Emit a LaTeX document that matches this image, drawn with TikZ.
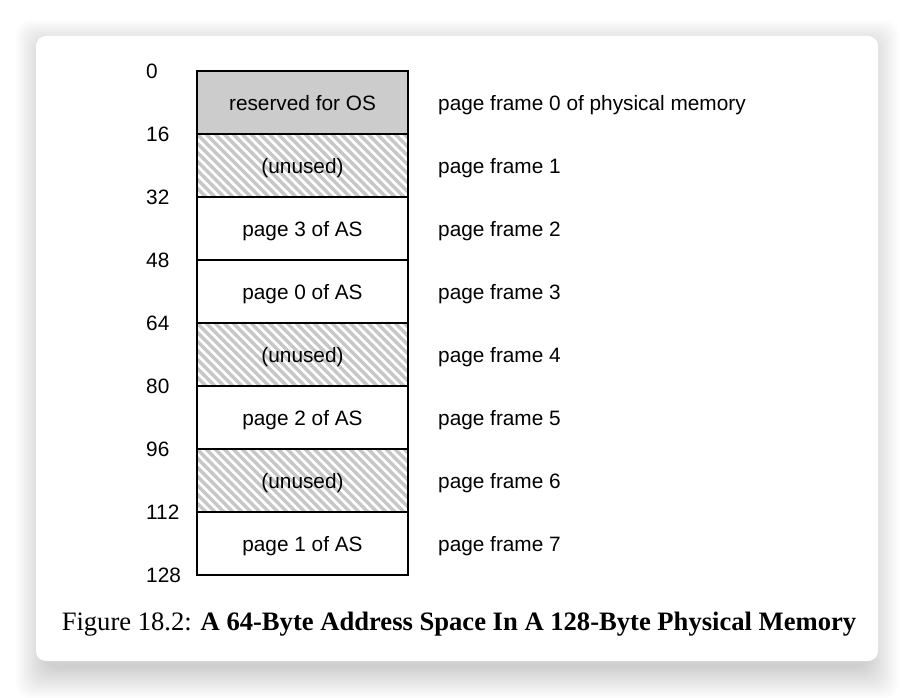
\documentclass[tikz,border=0pt]{standalone}
\usepackage{fontspec}
\setmainfont{Liberation Sans}
\newfontfamily\capfont{Liberation Serif}
\usetikzlibrary{positioning}

\begin{document}
\begin{tikzpicture}[x=1pt, y=-1pt,
  font=\fontsize{20.8}{24}\selectfont,
  frame/.style={draw, line width=1.8pt, minimum width=211pt, minimum height=63pt, inner sep=0pt, outer sep=0pt, text depth=0pt},
  osframe/.style={frame, fill=black!20},
  unused/.style={frame, path picture={
    \foreach \k in {-72,-63,...,216}
      \draw[black!22, line width=3.2pt] ([xshift=\k pt]path picture bounding box.north west) -- ++(70pt,-70pt);}},
  addr/.style={anchor=west, inner sep=0pt},
  lbl/.style={inner sep=0pt, text depth=0pt},
  node distance=0pt]
\useasboundingbox (0,0) rectangle (914,698);
% card and its shadow
\foreach \i in {0,2,...,30}
  \fill[black, opacity=0.012, rounded corners=14pt] (46-\i,50-\i) rectangle (868+\i,668+\i);
\fill[white, rounded corners=10pt] (36,36) rectangle (878,661);
% physical memory
\node[osframe] (r0) at (302.5,102.5) {reserved for OS};
\node[unused, below=of r0] (r1) {(unused)};
\node[frame, below=of r1] (r2) {page 3 of AS};
\node[frame, below=of r2] (r3) {page 0 of AS};
\node[unused, below=of r3] (r4) {(unused)};
\node[frame, below=of r4] (r5) {page 2 of AS};
\node[unused, below=of r5] (r6) {(unused)};
\node[frame, below=of r6] (r7) {page 1 of AS};
% addresses
\node[addr] (a0) at ([xshift=-51pt]r0.north west) {0};
\node[addr] (a16) at ([xshift=-51pt]r1.north west) {16};
\node[addr] (a32) at ([xshift=-51pt]r2.north west) {32};
\node[addr] (a48) at ([xshift=-51pt]r3.north west) {48};
\node[addr] (a64) at ([xshift=-51pt]r4.north west) {64};
\node[addr] (a80) at ([xshift=-51pt]r5.north west) {80};
\node[addr] (a96) at ([xshift=-51pt]r6.north west) {96};
\node[addr] (a112) at ([xshift=-51pt]r7.north west) {112};
\node[addr] (a128) at ([xshift=-51pt]r7.south west) {128};
% frame labels
\node[lbl, right=30pt of r0] (f0) {page frame 0 of physical memory};
\node[lbl, right=30pt of r1] (f1) {page frame 1};
\node[lbl, right=30pt of r2] (f2) {page frame 2};
\node[lbl, right=30pt of r3] (f3) {page frame 3};
\node[lbl, right=30pt of r4] (f4) {page frame 4};
\node[lbl, right=30pt of r5] (f5) {page frame 5};
\node[lbl, right=30pt of r6] (f6) {page frame 6};
\node[lbl, right=30pt of r7] (f7) {page frame 7};
% caption
\node[inner sep=0pt, anchor=base, font=\capfont\fontsize{26.6}{30}\selectfont] (cap) at (459,630)
  {Figure 18.2: \textbf{A 64-Byte Address Space In A 128-Byte Physical Memory}};
\end{tikzpicture}
\end{document}
